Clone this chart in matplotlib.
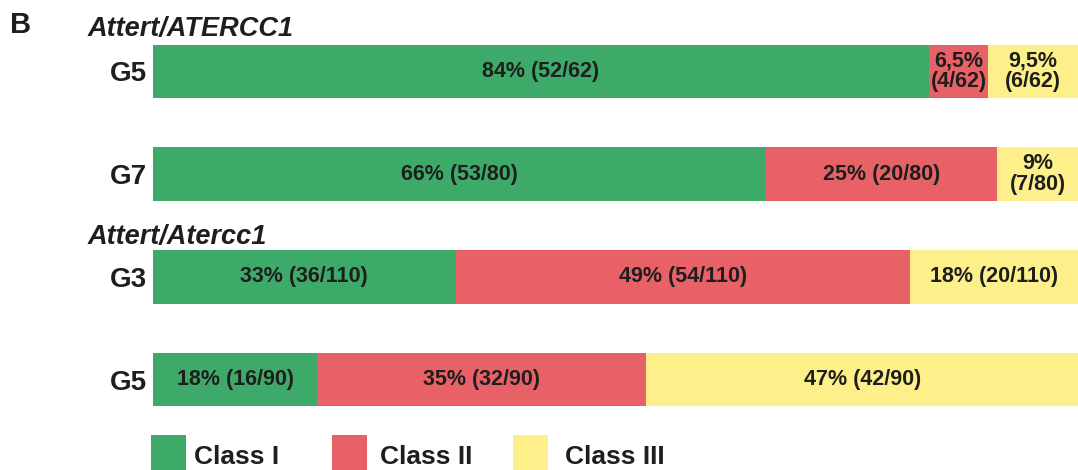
import matplotlib.pyplot as plt
from matplotlib.patches import Rectangle

plt.rcParams['font.family'] = ['Liberation Sans', 'DejaVu Sans']

rows = ['G5', 'G7', 'G3', 'G5']
groups = ['Attert/ATERCC1', 'Attert/Atercc1']
class1 = [52, 53, 36, 16]
class2 = [4, 20, 54, 32]
class3 = [6, 7, 20, 42]
totals = [62, 80, 110, 90]
labels1 = ['84% (52/62)', '66% (53/80)', '33% (36/110)', '18% (16/90)']
labels2 = ['6,5%\n(4/62)', '25% (20/80)', '49% (54/110)', '35% (32/90)']
labels3 = ['9,5%\n(6/62)', '9%\n(7/80)', '18% (20/110)', '47% (42/90)']
class_names = ['Class I', 'Class II', 'Class III']
colors = ['#3eaa69', '#e86166', '#fdf08b']
txt = '#1e1e1e'

W, H = 1078, 470
fig = plt.figure(figsize=(W / 100, H / 100), dpi=100)
ax = fig.add_axes([153 / W, 0, 1 - 153 / W, 1])

ypos = list(range(len(rows)))
f1 = [a / t for a, t in zip(class1, totals)]
f2 = [a / t for a, t in zip(class2, totals)]
f3 = [a / t for a, t in zip(class3, totals)]
left3 = [a + b for a, b in zip(f1, f2)]

h = 0.52
b1 = ax.barh(ypos, f1, height=h, color=colors[0], edgecolor='none')
b2 = ax.barh(ypos, f2, left=f1, height=h, color=colors[1], edgecolor='none')
b3 = ax.barh(ypos, f3, left=left3, height=h, color=colors[2], edgecolor='none')

for bars, labs in [(b1, labels1), (b2, labels2), (b3, labels3)]:
    ax.bar_label(bars, labels=labs, label_type='center', fontsize=15.5,
                 fontweight='bold', color=txt, linespacing=1.0)

ax.set_xlim(0, 1.0)
ax.set_ylim(3.881, -0.696)
ax.axis('off')

# row labels
for y, r in zip(ypos, rows):
    ax.text(-0.007, y, r, ha='right', va='center_baseline', fontsize=20,
            fontweight='bold', color=txt, transform=ax.get_yaxis_transform())

# group titles
ax.text(-0.071, -0.44, groups[0], ha='left', va='center_baseline', fontsize=19.5,
        fontweight='bold', style='italic', color=txt,
        transform=ax.get_yaxis_transform())
ax.text(-0.071, 1.585, groups[1], ha='left', va='center_baseline', fontsize=19.5,
        fontweight='bold', style='italic', color=txt,
        transform=ax.get_yaxis_transform())

fig.text(10 / W, 1 - 22 / H, 'B', ha='left', va='center_baseline',
         fontsize=21, fontweight='bold', color=txt)

# legend
leg_x = [151, 332, 513]
leg_tx = [194, 380, 565]
for x0, tx, c, name in zip(leg_x, leg_tx, colors, class_names):
    fig.add_artist(Rectangle((x0 / W, 0), 35 / W, 35 / H, transform=fig.transFigure,
                             facecolor=c, edgecolor='none'))
    fig.text(tx / W, 15 / H, name, ha='left', va='center_baseline', fontsize=19,
             fontweight='bold', color=txt)

fig.savefig('out.png', dpi=100)
